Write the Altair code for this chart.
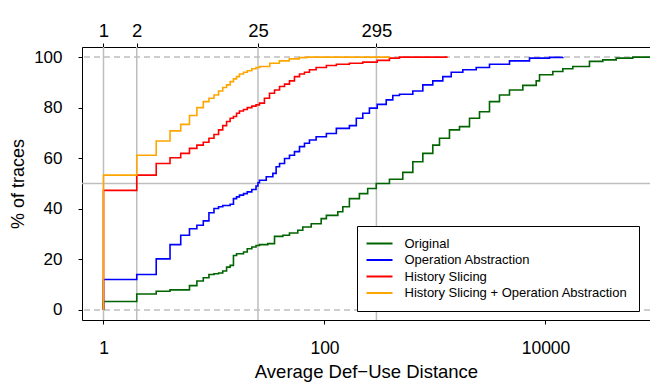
import altair as alt
import pandas as pd

FONT = "Liberation Sans"

series_names = ["Original", "Operation Abstraction", "History Slicing",
                "History Slicing + Operation Abstraction"]
series_colors = ["#006400", "#0000FF", "#FF0000", "#FFA500"]

orig_dist = [1, 1, 2, 3, 4, 6, 7, 8, 9, 10, 11, 12, 13, 14, 15, 16, 18.5, 20, 22, 24,
             25.8, 30.7, 35.3, 42, 48.2, 57.3, 63.6, 75.8, 93.3, 104, 132, 146.5, 168,
             207, 246, 294, 387, 511, 630, 776, 955, 1098, 1352, 1666, 2052, 2528,
             3113, 3834, 4722, 6235, 8240, 8830, 11650, 14350, 17660, 25000, 33000,
             43600, 61650, 100000]
orig_pct = [0, 3.3, 6.3, 7.4, 7.9, 9.6, 11.4, 12.7, 14.0, 14.3, 14.6, 15.4, 16.9, 17.6,
            21.5, 22.2, 22.9, 24.2, 24.9, 25.5, 25.8, 26.2, 29.1, 29.5, 30.4, 31.5, 32.8,
            34.1, 36.1, 37.4, 38.8, 40.8, 44.0, 46.0, 48.0, 50.0, 51.7, 54.4, 58.6, 61.9,
            65.2, 67.9, 71.2, 72.5, 75.8, 78.4, 82.4, 85.0, 87.0, 88.8, 90.6, 93.0, 94.3,
            95.4, 96.3, 98.3, 98.9, 99.6, 100, 100]

oa_dist = [1, 1, 2, 3, 4, 5, 6, 7, 8, 9, 10, 11, 12, 14, 15, 16, 17, 18.5, 20, 22, 24,
           25, 25.8, 29.7, 34.1, 36.5, 39.2, 43.5, 48.2, 53.5, 59.4, 65.9, 73.1, 84, 104,
           128, 168, 194, 222, 255, 300, 362, 415, 477, 630, 776, 955, 1177, 1402, 1786,
           2360, 3113, 4722, 7165, 10870, 14350]
oa_pct = [0, 12.0, 14.0, 20.2, 25.8, 29.5, 32.1, 33.5, 35.2, 38.4, 40.1, 40.8, 41.3,
          41.8, 44.0, 44.7, 45.4, 46.0, 46.7, 47.6, 49.0, 50.3, 51.3, 52.7, 54.0, 56.6,
          57.9, 59.9, 61.2, 62.6, 64.6, 65.9, 67.2, 68.5, 69.8, 71.8, 72.9, 75.8, 77.8,
          79.8, 81.3, 83.1, 84.8, 85.3, 86.6, 89.0, 90.6, 92.3, 94.0, 95.0, 95.9, 97.2,
          98.5, 99.6, 99.9, 100]

hs_dist = [1, 1, 2, 3, 4, 5, 6, 7, 8, 9, 10, 11, 12, 13, 14, 15, 16, 17, 18.5, 20, 22,
           24, 25.8, 28.6, 31.8, 35.3, 39.2, 43.5, 48.2, 53.5, 59.4, 65.9, 73.1, 84, 104,
           128, 168, 222, 300, 387, 477, 1300]
hs_pct = [0, 47.3, 53.3, 57.9, 60.2, 61.9, 63.9, 65.2, 66.3, 67.9, 69.4, 71.2, 72.9,
          74.5, 75.8, 76.5, 77.8, 78.7, 79.3, 80.0, 80.6, 81.1, 81.8, 83.7, 85.7, 87.0,
          88.4, 89.3, 90.6, 92.3, 93.3, 94.0, 95.0, 95.9, 96.7, 97.2, 97.6, 98.0, 98.7,
          99.6, 100, 100]

hsoa_dist = [1, 1, 2, 3, 4, 5, 6, 7, 8, 9, 10, 11, 12, 13, 14, 15, 16, 17, 18.5, 20, 22,
             24, 26, 32, 39, 48, 59, 69, 390]
hsoa_pct = [0, 53.3, 61.2, 66.8, 70.8, 73.4, 76.9, 80.0, 82.4, 83.7, 85.0, 86.6, 88.0,
            89.0, 90.3, 91.4, 92.3, 93.3, 94.0, 94.6, 95.4, 95.9, 96.3, 97.6, 98.5, 99.3,
            99.8, 100, 100]

top_ticks = [1, 2, 25, 295]
bottom_ticks = [1, 100, 10000]
y_ticks = [0, 20, 40, 60, 80, 100]
dashed_levels = [0, 100]
solid_levels = [50]

rows = []
for name, ds, ps in zip(series_names,
                        [orig_dist, oa_dist, hs_dist, hsoa_dist],
                        [orig_pct, oa_pct, hs_pct, hsoa_pct]):
    for i, (d, p) in enumerate(zip(ds, ps)):
        rows.append({"series": name, "dist": d, "pct": p, "i": i})
df = pd.DataFrame(rows)

xscale = alt.Scale(type="log", domain=[0.639, 88250], nice=False)
yscale = alt.Scale(domain=[-4, 104], nice=False, zero=False)

y_axis = alt.Axis(values=y_ticks, title="% of traces", tickSize=4, labelPadding=16,
                  titlePadding=6, labelFontSize=17, titleFontSize=18, grid=False,
                  domainColor="black", tickColor="black", labelColor="black",
                  titleColor="black", titleFontWeight="normal", labelFont=FONT,
                  titleFont=FONT)

gray = "#BEBEBE"

vgrid = alt.Chart(pd.DataFrame({"v": top_ticks})).mark_rule(
    color=gray, strokeWidth=1.5).encode(
    x=alt.X("v:Q", scale=xscale,
            axis=alt.Axis(orient="top", values=top_ticks, format="d", title=None,
                          tickSize=4, labelPadding=3, labelFontSize=18.5, grid=False,
                          domainColor="black", tickColor="black", labelColor="black",
                          labelFont=FONT, labelFlush=False))
)

hline = alt.Chart(pd.DataFrame({"v": solid_levels})).mark_rule(
    color=gray, strokeWidth=1.5).encode(
    y=alt.Y("v:Q", scale=yscale, axis=y_axis)
)

dashed = alt.Chart(pd.DataFrame({"v": dashed_levels})).mark_rule(
    color=gray, strokeWidth=1.5, strokeDash=[6, 4]).encode(
    y=alt.Y("v:Q", scale=yscale, axis=y_axis)
)

lines = alt.Chart(df).mark_line(interpolate="step-after", strokeWidth=1.6,
                                clip=True).encode(
    x=alt.X("dist:Q", scale=xscale,
            axis=alt.Axis(orient="bottom", values=bottom_ticks, format="d",
                          title="Average Def\u2212Use Distance", tickSize=4,
                          labelPadding=15, titlePadding=6, labelFontSize=17.5,
                          titleFontSize=18.5, grid=False, domainColor="black",
                          tickColor="black", labelColor="black", titleColor="black",
                          titleFontWeight="normal", labelFont=FONT, titleFont=FONT,
                          labelFlush=False)),
    y=alt.Y("pct:Q", scale=yscale, axis=y_axis),
    color=alt.Color("series:N",
                    scale=alt.Scale(domain=series_names, range=series_colors),
                    legend=alt.Legend(orient="none", legendX=275, legendY=179,
                                      title=None, strokeColor="black",
                                      fillColor="white", padding=11,
                                      symbolType="M-1.6,0H3.6", symbolSize=100,
                                      symbolStrokeWidth=2, labelFontSize=13,
                                      labelFont=FONT, labelColor="black",
                                      labelLimit=400,
                                      labelOffset=23.5, rowPadding=2.5)),
    order=alt.Order("i:Q"),
)

chart = alt.layer(vgrid, hline, dashed, lines).resolve_axis(x="independent").properties(
    width=568, height=273,
    autosize=alt.AutoSizeParams(type="none"),
    padding={"left": 74, "top": 39, "right": 0, "bottom": 64},
).configure_view(stroke=None).configure(font=FONT)

chart.save("out.html", embed_options={"renderer": "svg", "actions": False})
